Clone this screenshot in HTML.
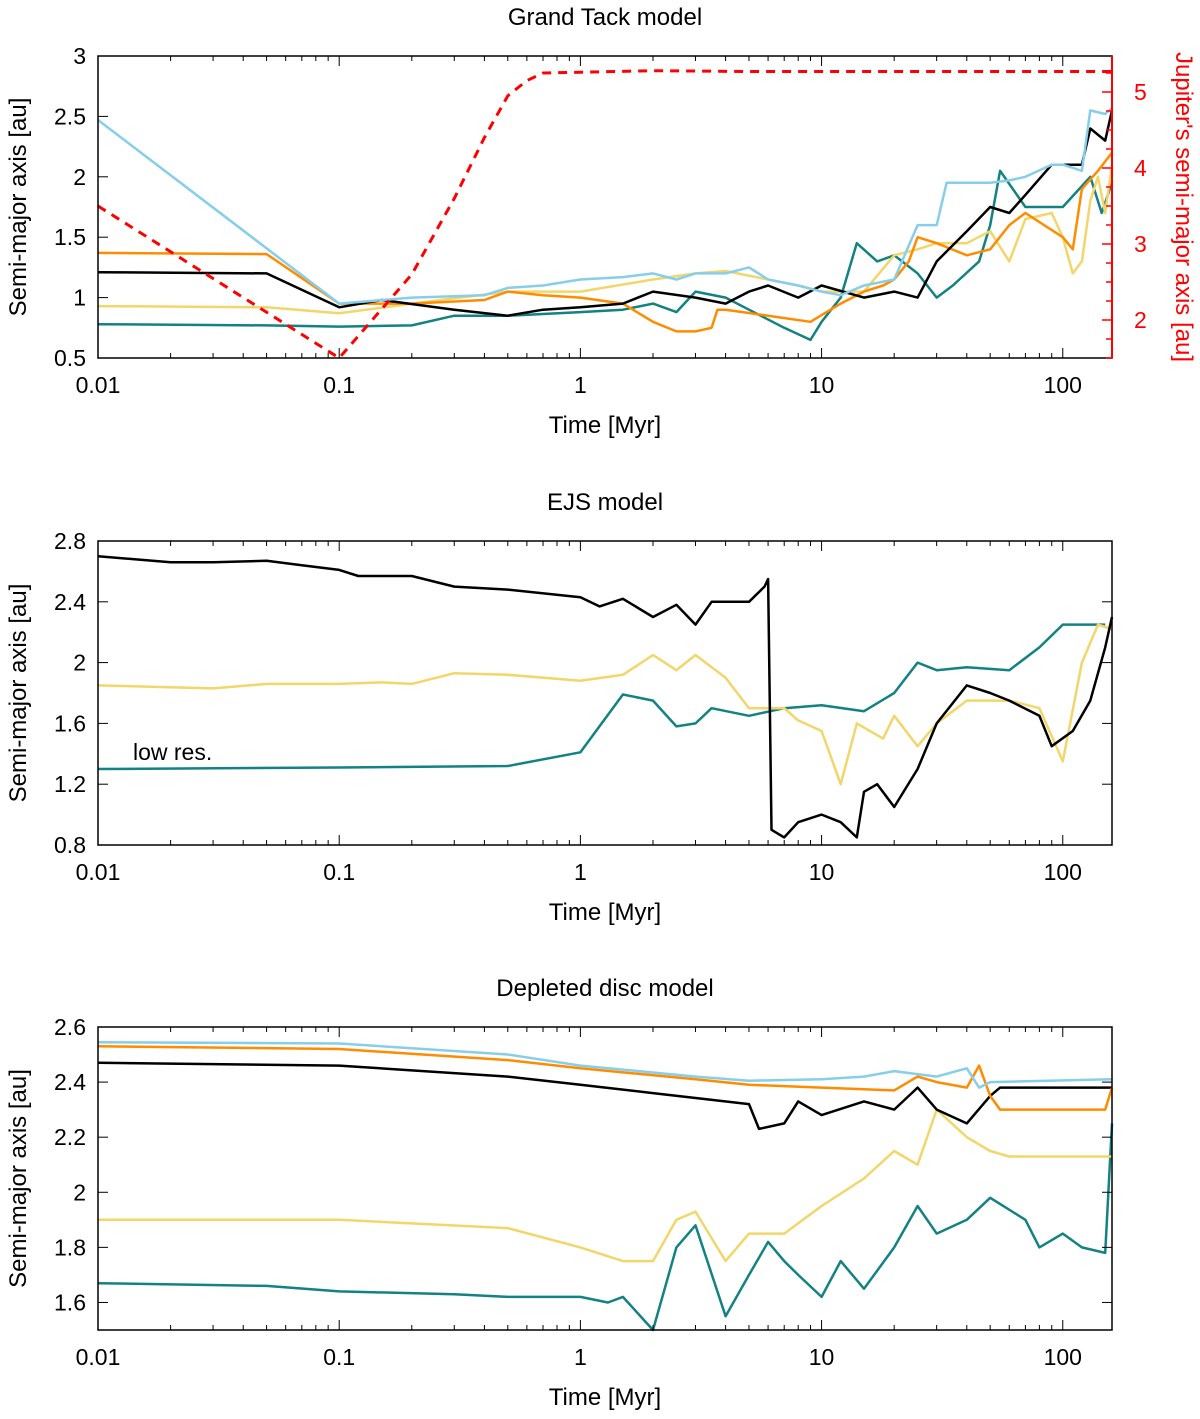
<!DOCTYPE html>
<html><head><meta charset="utf-8"><style>
body{margin:0;background:#fff}
svg{display:block;font-family:"Liberation Sans",sans-serif}
</style></head><body>
<svg id="c" width="1200" height="1419" viewBox="0 0 1200 1419"></svg>
<script>
// ---- Data (time in Myr, semi-major axis in au) ----
const gtJupT=[0.01,0.1,0.2,0.3,0.4,0.5,0.6,0.7,1,2,5,10,50,100,160];
const gtJupV=[3.5,1.5,2.6,3.6,4.4,4.95,5.15,5.25,5.26,5.28,5.27,5.27,5.27,5.27,5.27];
const gtSkyT=[0.01,0.1,0.2,0.4,0.5,0.7,1,1.5,2,2.5,3,4,5,6,8,10,12,15,20,25,30,33,40,50,60,70,90,100,120,130,150,160];
const gtSkyV=[2.47,0.95,1.0,1.02,1.08,1.1,1.15,1.17,1.2,1.15,1.2,1.2,1.25,1.15,1.1,1.05,1.02,1.1,1.15,1.6,1.6,1.95,1.95,1.95,1.97,2.0,2.1,2.1,2.05,2.55,2.52,2.57];
const gtOrT=[0.01,0.05,0.1,0.2,0.4,0.5,0.7,1,1.5,2,2.5,3,3.5,3.7,4,6,9,12,15,18,20,23,25,30,40,50,60,70,100,110,120,140,160];
const gtOrV=[1.37,1.36,0.95,0.95,0.98,1.05,1.02,1.0,0.95,0.8,0.72,0.72,0.75,0.9,0.9,0.85,0.8,0.95,1.05,1.1,1.15,1.3,1.5,1.45,1.35,1.4,1.6,1.7,1.5,1.4,1.9,2.05,2.2];
const gtBkT=[0.01,0.05,0.1,0.15,0.3,0.5,0.7,1,1.5,2,3,4,5,6,8,10,15,20,25,30,40,50,60,70,90,120,130,150,160];
const gtBkV=[1.21,1.2,0.92,0.98,0.9,0.85,0.9,0.92,0.95,1.05,1.0,0.95,1.05,1.1,1.0,1.1,1.0,1.05,1.0,1.3,1.55,1.75,1.7,1.85,2.1,2.1,2.4,2.3,2.55];
const gtYeT=[0.01,0.05,0.1,0.2,0.5,1,2,3,4,6,8,10,15,20,25,30,40,50,60,70,90,100,110,120,130,140,150,160];
const gtYeV=[0.93,0.92,0.87,0.95,1.05,1.05,1.15,1.2,1.22,1.15,1.1,1.05,1.05,1.35,1.4,1.45,1.45,1.55,1.3,1.65,1.7,1.5,1.2,1.3,1.8,2.0,1.7,2.1];
const gtTeT=[0.01,0.05,0.1,0.2,0.3,0.5,1,1.5,2,2.5,3,4,5,7,9,10,12,14,17,20,25,30,35,45,50,55,70,100,130,145,160];
const gtTeV=[0.78,0.77,0.76,0.77,0.85,0.85,0.88,0.9,0.95,0.88,1.05,1.0,0.9,0.75,0.65,0.8,1.0,1.45,1.3,1.35,1.2,1.0,1.1,1.3,1.6,2.05,1.75,1.75,2.0,1.7,1.95];

const ejBkT=[0.01,0.02,0.03,0.05,0.07,0.1,0.12,0.2,0.3,0.5,1,1.2,1.5,2,2.5,3,3.5,5,5.8,6.0,6.2,7,8,10,12,14,15,17,20,25,30,40,50,60,80,90,110,130,150,160];
const ejBkV=[2.7,2.66,2.66,2.67,2.64,2.61,2.57,2.57,2.5,2.48,2.43,2.37,2.42,2.3,2.38,2.25,2.4,2.4,2.5,2.55,0.9,0.85,0.95,1.0,0.95,0.85,1.15,1.2,1.05,1.3,1.6,1.85,1.8,1.75,1.65,1.45,1.55,1.75,2.1,2.3];
const ejYeT=[0.01,0.03,0.05,0.1,0.15,0.2,0.3,0.5,1,1.5,2,2.5,3,4,5,7,8,10,12,14,18,20,25,30,40,60,80,100,120,140,160];
const ejYeV=[1.85,1.83,1.86,1.86,1.87,1.86,1.93,1.92,1.88,1.92,2.05,1.95,2.05,1.9,1.7,1.7,1.62,1.55,1.2,1.6,1.5,1.65,1.45,1.6,1.75,1.75,1.7,1.35,2.0,2.25,2.22];
const ejTeT=[0.01,0.1,0.5,1,1.5,2,2.5,3,3.5,5,7,10,15,20,25,30,40,60,80,100,150];
const ejTeV=[1.3,1.31,1.32,1.41,1.79,1.75,1.58,1.6,1.7,1.65,1.7,1.72,1.68,1.8,2.0,1.95,1.97,1.95,2.1,2.25,2.25];

const ddSkT=[0.01,0.1,0.5,1,3,5,10,15,20,30,40,45,50,160];
const ddSkV=[2.545,2.54,2.5,2.46,2.42,2.405,2.41,2.42,2.44,2.42,2.45,2.38,2.4,2.41];
const ddOrT=[0.01,0.1,0.5,1,3,5,10,20,25,30,40,45,50,55,150,160];
const ddOrV=[2.53,2.52,2.48,2.45,2.41,2.39,2.38,2.37,2.42,2.4,2.38,2.46,2.35,2.3,2.3,2.38];
const ddBkT=[0.01,0.1,0.5,1,2,5,5.5,7,8,10,15,20,25,30,40,50,55,160];
const ddBkV=[2.47,2.46,2.42,2.39,2.36,2.32,2.23,2.25,2.33,2.28,2.33,2.3,2.38,2.3,2.25,2.35,2.38,2.38];
const ddYeT=[0.01,0.1,0.5,1,1.5,2,2.5,3,4,5,7,10,15,20,25,30,40,50,60,160];
const ddYeV=[1.9,1.9,1.87,1.8,1.75,1.75,1.9,1.93,1.75,1.85,1.85,1.95,2.05,2.15,2.1,2.3,2.2,2.15,2.13,2.13];
const ddTeT=[0.01,0.05,0.1,0.3,0.5,1,1.3,1.5,2,2.5,3,4,5,6,7,8,10,12,15,20,25,30,40,50,70,80,100,120,150,160];
const ddTeV=[1.67,1.66,1.64,1.63,1.62,1.62,1.6,1.62,1.5,1.8,1.88,1.55,1.7,1.82,1.75,1.7,1.62,1.75,1.65,1.8,1.95,1.85,1.9,1.98,1.9,1.8,1.85,1.8,1.78,2.25];

const xTicks=[0.01,0.1,1,10,100];
const xTickLabels=["0.01","0.1","1","10","100"];

const NS="http://www.w3.org/2000/svg";
const svg=document.getElementById('c');
function mk(tag,attrs,parent){const e=document.createElementNS(NS,tag);for(const k in attrs)e.setAttribute(k,attrs[k]);(parent||svg).appendChild(e);return e;}
const X0=98,X1=1112,TMIN=0.01,TMAX=160;
function xs(t){return X0+(Math.log10(t)-Math.log10(TMIN))/(Math.log10(TMAX)-Math.log10(TMIN))*(X1-X0);}

function panel(p){
  const g=mk('g',{});
  
  
  const ys=v=>p.bot-(v-p.ymin)/(p.ymax-p.ymin)*(p.bot-p.top);
  // series
  p.series.forEach(s=>{
    const d=s.t.map((t,i)=>(i?'L':'M')+xs(t).toFixed(1)+','+(s.right?p.ys2(s.v[i]):ys(s.v[i])).toFixed(1)).join('');
    const path=mk('path',{d:d,fill:'none',stroke:s.c,'stroke-width':s.right?3:2.5,'stroke-dasharray':s.right?'9,7':'none','stroke-linejoin':'round'},g);
    
    
  });
  // frame
  const fr=mk('rect',{x:X0,y:p.top,width:X1-X0,height:p.bot-p.top,fill:'none',stroke:'#000','stroke-width':1.5},g);
  
  
  if(p.ys2){mk('line',{x1:X1,y1:p.top,x2:X1,y2:p.bot,stroke:'#f00','stroke-width':2},g);}
  // x ticks
  for(let e=-2;e<=2;e++){for(let m=1;m<=9;m++){const t=m*Math.pow(10,e);if(t>TMAX)continue;const x=xs(t);const L=m==1?10:5;
    mk('line',{x1:x,y1:p.bot,x2:x,y2:p.bot-L,stroke:'#000','stroke-width':1},g);
    mk('line',{x1:x,y1:p.top,x2:x,y2:p.top+L,stroke:'#000','stroke-width':1},g);}}
  xTicks.forEach((t,i)=>{const tx=mk('text',{x:xs(t),y:p.bot+35,'font-size':23,'text-anchor':'middle'},g);tx.textContent=xTickLabels[i];
    
    });
  // y ticks
  p.yt.forEach((v,i)=>{const y=ys(v);
    mk('line',{x1:X0,y1:y,x2:X0+10,y2:y,stroke:'#000'},g);
    if(!p.ys2)mk('line',{x1:X1,y1:y,x2:X1-10,y2:y,stroke:'#000'},g);
    const tx=mk('text',{x:X0-12,y:y+8,'font-size':23,'text-anchor':'end'},g);tx.textContent=p.ytl[i];
    
    });
  if(p.ymin2){for(let v=1.5;v<=5.5;v+=0.25){const y=p.ys2(v);if(y<p.top)continue;const maj=Math.abs(v-Math.round(v))<1e-6;
      mk('line',{x1:X1,y1:y,x2:X1-(maj?10:6),y2:y,stroke:'#f00','stroke-width':1.5},g);
      if(maj&&v>=2){const tx=mk('text',{x:X1+22,y:y+8,'font-size':23,fill:'#f00'},g);tx.textContent=String(v);
        
        }}
    const rt=mk('text',{transform:`translate(1176,${(p.top+p.bot)/2}) rotate(90)`,'font-size':24,fill:'#f00','text-anchor':'middle'},g);rt.textContent="Jupiter's semi-major axis [au]";
    
    }
  const ti=mk('text',{x:605,y:p.top-31,'font-size':24,'text-anchor':'middle'},g);ti.textContent=p.title;
  
  
  const xt=mk('text',{x:605,y:p.bot+75,'font-size':24,'text-anchor':'middle'},g);xt.textContent='Time [Myr]';
  
  
  const yt=mk('text',{transform:`translate(26,${(p.top+p.bot)/2}) rotate(-90)`,'font-size':24,'text-anchor':'middle'},g);yt.textContent='Semi-major axis [au]';
  
  
  return g;
}
const SKY='#87ceeb',OR='#ff8c00',YE='#f2d66a',TE='#138282',BK='#000';
panel({name:'grand-tack-panel',title:'Grand Tack model',top:56,bot:358,ymin:0.5,ymax:3,yt:[0.5,1,1.5,2,2.5,3],ytl:['0.5','1','1.5','2','2.5','3'],
  ymin2:1.5,ys2:v=>358-(v-1.5)*76,
  series:[{n:'teal-series',t:gtTeT,v:gtTeV,c:TE},{n:'yellow-series',t:gtYeT,v:gtYeV,c:YE},{n:'orange-series',t:gtOrT,v:gtOrV,c:OR},{n:'black-series',t:gtBkT,v:gtBkV,c:BK},{n:'skyblue-series',t:gtSkyT,v:gtSkyV,c:SKY},{n:'jupiter-line',t:gtJupT,v:gtJupV,c:'#f00',right:true}]});
panel({name:'ejs-panel',title:'EJS model',top:541,bot:845,ymin:0.8,ymax:2.8,yt:[0.8,1.2,1.6,2,2.4,2.8],ytl:['0.8','1.2','1.6','2','2.4','2.8'],
  series:[{n:'teal-series',t:ejTeT,v:ejTeV,c:TE},{n:'yellow-series',t:ejYeT,v:ejYeV,c:YE},{n:'black-series',t:ejBkT,v:ejBkV,c:BK}]});
const lr=mk('text',{x:133,y:760,'font-size':23});lr.textContent='low res.';


panel({name:'depleted-disc-panel',title:'Depleted disc model',top:1027,bot:1330,ymin:1.5,ymax:2.6,yt:[1.6,1.8,2,2.2,2.4,2.6],ytl:['1.6','1.8','2','2.2','2.4','2.6'],
  series:[{n:'teal-series',t:ddTeT,v:ddTeV,c:TE},{n:'yellow-series',t:ddYeT,v:ddYeV,c:YE},{n:'black-series',t:ddBkT,v:ddBkV,c:BK},{n:'orange-series',t:ddOrT,v:ddOrV,c:OR},{n:'skyblue-series',t:ddSkT,v:ddSkV,c:SKY}]});
</script>
</body></html>
